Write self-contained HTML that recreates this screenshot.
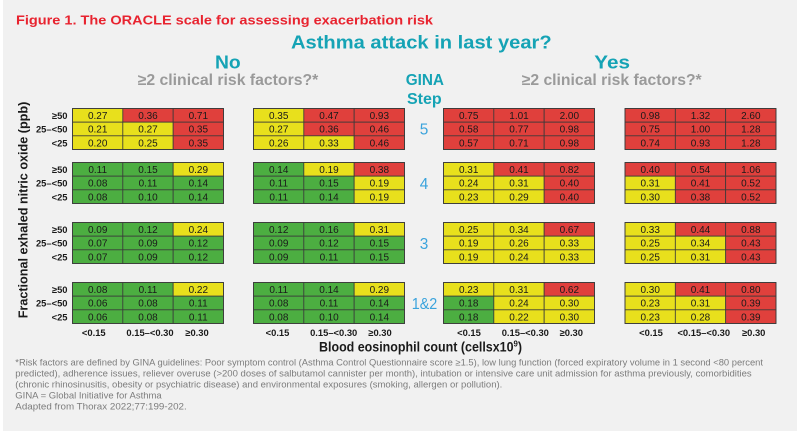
<!DOCTYPE html>
<html><head><meta charset="utf-8"><style>
html,body{margin:0;padding:0;background:#fff;}
svg{display:block;font-family:"Liberation Sans",Arial,sans-serif;}
.g{fill:#4cae41}.y{fill:#e8e01c}.r{fill:#e0403c}
.cell rect{stroke:#3a3a3a;stroke-width:0.8}
.cell text{font-size:10px;fill:#1a1a1a;text-anchor:middle}
.rl{font-size:9.4px;font-weight:bold;fill:#1a1a1a;text-anchor:end}
.xl{font-size:9.4px;font-weight:bold;fill:#1a1a1a;text-anchor:middle}
.st{font-size:15.4px;fill:#3aa3dc;text-anchor:middle}
.fn{font-size:9px;fill:#7c7c7c}
.ob{fill:none;stroke:#333;stroke-width:1.3}
</style></head><body>
<svg width="800" height="434" viewBox="0 0 800 434" xmlns="http://www.w3.org/2000/svg">
<rect x="0" y="0" width="800" height="434" fill="#fff"/>
<rect x="3" y="0" width="794" height="431" fill="#f1f1f1"/>

<text x="16" y="24.5" font-size="13.2" font-weight="bold" fill="#e8232f" textLength="417" lengthAdjust="spacingAndGlyphs">Figure 1. The ORACLE scale for assessing exacerbation risk</text>
<text x="291" y="48.5" font-size="18.6" font-weight="bold" fill="#15a3b5" textLength="260.7" lengthAdjust="spacingAndGlyphs">Asthma attack in last year?</text>
<text x="215" y="68.5" font-size="18.6" font-weight="bold" fill="#15a3b5" textLength="25.7" lengthAdjust="spacingAndGlyphs">No</text>
<text x="594.3" y="68.5" font-size="18.6" font-weight="bold" fill="#15a3b5" textLength="35.7" lengthAdjust="spacingAndGlyphs">Yes</text>
<text x="137.7" y="85" font-size="15.5" font-weight="bold" fill="#9a9a9a" textLength="180.6" lengthAdjust="spacingAndGlyphs">≥2 clinical risk factors?*</text>
<text x="521.7" y="85" font-size="15.5" font-weight="bold" fill="#9a9a9a" textLength="180" lengthAdjust="spacingAndGlyphs">≥2 clinical risk factors?*</text>
<text x="405.7" y="85" font-size="15.4" font-weight="bold" fill="#15a3b5" textLength="38.3" lengthAdjust="spacingAndGlyphs">GINA</text>
<text x="407" y="104" font-size="15.4" font-weight="bold" fill="#15a3b5" textLength="34.7" lengthAdjust="spacingAndGlyphs">Step</text>

<text class="st" x="424" y="134.3">5</text>
<text class="st" x="424" y="189">4</text>
<text class="st" x="424" y="249">3</text>
<text x="411.7" y="309" font-size="15.4" fill="#3aa3dc" textLength="25.6" lengthAdjust="spacingAndGlyphs">1&amp;2</text>

<text transform="translate(27.6,318.3) rotate(-90)" x="0" y="0" font-size="12.6" font-weight="bold" fill="#1a1a1a" textLength="216.6" lengthAdjust="spacingAndGlyphs">Fractional exhaled nitric oxide (ppb)</text>

<!-- Row labels -->
<g>
<text class="rl" x="67.5" y="118.9">≥50</text><text class="rl" x="67.5" y="132.6">25–&lt;50</text><text class="rl" x="67.5" y="146.3">&lt;25</text>
<text class="rl" x="67.5" y="172.9">≥50</text><text class="rl" x="67.5" y="186.6">25–&lt;50</text><text class="rl" x="67.5" y="200.3">&lt;25</text>
<text class="rl" x="67.5" y="232.9">≥50</text><text class="rl" x="67.5" y="246.6">25–&lt;50</text><text class="rl" x="67.5" y="260.3">&lt;25</text>
<text class="rl" x="67.5" y="292.9">≥50</text><text class="rl" x="67.5" y="306.6">25–&lt;50</text><text class="rl" x="67.5" y="320.3">&lt;25</text>
</g>

<!-- GROUP 1 (step 5) -->
<g class="cell" transform="translate(72.5,108.5)">
<rect class="y" x="0" y="0" width="50.33" height="13.67"/><rect class="r" x="50.33" y="0" width="50.33" height="13.67"/><rect class="r" x="100.67" y="0" width="50.33" height="13.67"/>
<rect class="y" x="0" y="13.67" width="50.33" height="13.67"/><rect class="y" x="50.33" y="13.67" width="50.33" height="13.67"/><rect class="r" x="100.67" y="13.67" width="50.33" height="13.67"/>
<rect class="y" x="0" y="27.33" width="50.33" height="13.67"/><rect class="y" x="50.33" y="27.33" width="50.33" height="13.67"/><rect class="r" x="100.67" y="27.33" width="50.33" height="13.67"/>
<rect class="ob" x="0" y="0" width="151" height="41"/>
<text x="25.2" y="10.4">0.27</text><text x="75.5" y="10.4">0.36</text><text x="125.8" y="10.4">0.71</text>
<text x="25.2" y="24.1">0.21</text><text x="75.5" y="24.1">0.27</text><text x="125.8" y="24.1">0.35</text>
<text x="25.2" y="37.8">0.20</text><text x="75.5" y="37.8">0.25</text><text x="125.8" y="37.8">0.35</text>
</g>
<g class="cell" transform="translate(253.5,108.5)">
<rect class="y" x="0" y="0" width="50.33" height="13.67"/><rect class="r" x="50.33" y="0" width="50.33" height="13.67"/><rect class="r" x="100.67" y="0" width="50.33" height="13.67"/>
<rect class="y" x="0" y="13.67" width="50.33" height="13.67"/><rect class="r" x="50.33" y="13.67" width="50.33" height="13.67"/><rect class="r" x="100.67" y="13.67" width="50.33" height="13.67"/>
<rect class="y" x="0" y="27.33" width="50.33" height="13.67"/><rect class="y" x="50.33" y="27.33" width="50.33" height="13.67"/><rect class="r" x="100.67" y="27.33" width="50.33" height="13.67"/>
<rect class="ob" x="0" y="0" width="151" height="41"/>
<text x="25.2" y="10.4">0.35</text><text x="75.5" y="10.4">0.47</text><text x="125.8" y="10.4">0.93</text>
<text x="25.2" y="24.1">0.27</text><text x="75.5" y="24.1">0.36</text><text x="125.8" y="24.1">0.46</text>
<text x="25.2" y="37.8">0.26</text><text x="75.5" y="37.8">0.33</text><text x="125.8" y="37.8">0.46</text>
</g>
<g class="cell" transform="translate(443.5,108.5)">
<rect class="r" x="0" y="0" width="50.33" height="13.67"/><rect class="r" x="50.33" y="0" width="50.33" height="13.67"/><rect class="r" x="100.67" y="0" width="50.33" height="13.67"/>
<rect class="r" x="0" y="13.67" width="50.33" height="13.67"/><rect class="r" x="50.33" y="13.67" width="50.33" height="13.67"/><rect class="r" x="100.67" y="13.67" width="50.33" height="13.67"/>
<rect class="r" x="0" y="27.33" width="50.33" height="13.67"/><rect class="r" x="50.33" y="27.33" width="50.33" height="13.67"/><rect class="r" x="100.67" y="27.33" width="50.33" height="13.67"/>
<rect class="ob" x="0" y="0" width="151" height="41"/>
<text x="25.2" y="10.4">0.75</text><text x="75.5" y="10.4">1.01</text><text x="125.8" y="10.4">2.00</text>
<text x="25.2" y="24.1">0.58</text><text x="75.5" y="24.1">0.77</text><text x="125.8" y="24.1">0.98</text>
<text x="25.2" y="37.8">0.57</text><text x="75.5" y="37.8">0.71</text><text x="125.8" y="37.8">0.98</text>
</g>
<g class="cell" transform="translate(625,108.5)">
<rect class="r" x="0" y="0" width="50.33" height="13.67"/><rect class="r" x="50.33" y="0" width="50.33" height="13.67"/><rect class="r" x="100.67" y="0" width="50.33" height="13.67"/>
<rect class="r" x="0" y="13.67" width="50.33" height="13.67"/><rect class="r" x="50.33" y="13.67" width="50.33" height="13.67"/><rect class="r" x="100.67" y="13.67" width="50.33" height="13.67"/>
<rect class="r" x="0" y="27.33" width="50.33" height="13.67"/><rect class="r" x="50.33" y="27.33" width="50.33" height="13.67"/><rect class="r" x="100.67" y="27.33" width="50.33" height="13.67"/>
<rect class="ob" x="0" y="0" width="151" height="41"/>
<text x="25.2" y="10.4">0.98</text><text x="75.5" y="10.4">1.32</text><text x="125.8" y="10.4">2.60</text>
<text x="25.2" y="24.1">0.75</text><text x="75.5" y="24.1">1.00</text><text x="125.8" y="24.1">1.28</text>
<text x="25.2" y="37.8">0.74</text><text x="75.5" y="37.8">0.93</text><text x="125.8" y="37.8">1.28</text>
</g>

<!-- GROUP 2 (step 4) -->
<g class="cell" transform="translate(72.5,162.5)">
<rect class="g" x="0" y="0" width="50.33" height="13.67"/><rect class="g" x="50.33" y="0" width="50.33" height="13.67"/><rect class="y" x="100.67" y="0" width="50.33" height="13.67"/>
<rect class="g" x="0" y="13.67" width="50.33" height="13.67"/><rect class="g" x="50.33" y="13.67" width="50.33" height="13.67"/><rect class="g" x="100.67" y="13.67" width="50.33" height="13.67"/>
<rect class="g" x="0" y="27.33" width="50.33" height="13.67"/><rect class="g" x="50.33" y="27.33" width="50.33" height="13.67"/><rect class="g" x="100.67" y="27.33" width="50.33" height="13.67"/>
<rect class="ob" x="0" y="0" width="151" height="41"/>
<text x="25.2" y="10.4">0.11</text><text x="75.5" y="10.4">0.15</text><text x="125.8" y="10.4">0.29</text>
<text x="25.2" y="24.1">0.08</text><text x="75.5" y="24.1">0.11</text><text x="125.8" y="24.1">0.14</text>
<text x="25.2" y="37.8">0.08</text><text x="75.5" y="37.8">0.10</text><text x="125.8" y="37.8">0.14</text>
</g>
<g class="cell" transform="translate(253.5,162.5)">
<rect class="g" x="0" y="0" width="50.33" height="13.67"/><rect class="y" x="50.33" y="0" width="50.33" height="13.67"/><rect class="r" x="100.67" y="0" width="50.33" height="13.67"/>
<rect class="g" x="0" y="13.67" width="50.33" height="13.67"/><rect class="g" x="50.33" y="13.67" width="50.33" height="13.67"/><rect class="y" x="100.67" y="13.67" width="50.33" height="13.67"/>
<rect class="g" x="0" y="27.33" width="50.33" height="13.67"/><rect class="g" x="50.33" y="27.33" width="50.33" height="13.67"/><rect class="y" x="100.67" y="27.33" width="50.33" height="13.67"/>
<rect class="ob" x="0" y="0" width="151" height="41"/>
<text x="25.2" y="10.4">0.14</text><text x="75.5" y="10.4">0.19</text><text x="125.8" y="10.4">0.38</text>
<text x="25.2" y="24.1">0.11</text><text x="75.5" y="24.1">0.15</text><text x="125.8" y="24.1">0.19</text>
<text x="25.2" y="37.8">0.11</text><text x="75.5" y="37.8">0.14</text><text x="125.8" y="37.8">0.19</text>
</g>
<g class="cell" transform="translate(443.5,162.5)">
<rect class="y" x="0" y="0" width="50.33" height="13.67"/><rect class="r" x="50.33" y="0" width="50.33" height="13.67"/><rect class="r" x="100.67" y="0" width="50.33" height="13.67"/>
<rect class="y" x="0" y="13.67" width="50.33" height="13.67"/><rect class="y" x="50.33" y="13.67" width="50.33" height="13.67"/><rect class="r" x="100.67" y="13.67" width="50.33" height="13.67"/>
<rect class="y" x="0" y="27.33" width="50.33" height="13.67"/><rect class="y" x="50.33" y="27.33" width="50.33" height="13.67"/><rect class="r" x="100.67" y="27.33" width="50.33" height="13.67"/>
<rect class="ob" x="0" y="0" width="151" height="41"/>
<text x="25.2" y="10.4">0.31</text><text x="75.5" y="10.4">0.41</text><text x="125.8" y="10.4">0.82</text>
<text x="25.2" y="24.1">0.24</text><text x="75.5" y="24.1">0.31</text><text x="125.8" y="24.1">0.40</text>
<text x="25.2" y="37.8">0.23</text><text x="75.5" y="37.8">0.29</text><text x="125.8" y="37.8">0.40</text>
</g>
<g class="cell" transform="translate(625,162.5)">
<rect class="r" x="0" y="0" width="50.33" height="13.67"/><rect class="r" x="50.33" y="0" width="50.33" height="13.67"/><rect class="r" x="100.67" y="0" width="50.33" height="13.67"/>
<rect class="y" x="0" y="13.67" width="50.33" height="13.67"/><rect class="r" x="50.33" y="13.67" width="50.33" height="13.67"/><rect class="r" x="100.67" y="13.67" width="50.33" height="13.67"/>
<rect class="y" x="0" y="27.33" width="50.33" height="13.67"/><rect class="r" x="50.33" y="27.33" width="50.33" height="13.67"/><rect class="r" x="100.67" y="27.33" width="50.33" height="13.67"/>
<rect class="ob" x="0" y="0" width="151" height="41"/>
<text x="25.2" y="10.4">0.40</text><text x="75.5" y="10.4">0.54</text><text x="125.8" y="10.4">1.06</text>
<text x="25.2" y="24.1">0.31</text><text x="75.5" y="24.1">0.41</text><text x="125.8" y="24.1">0.52</text>
<text x="25.2" y="37.8">0.30</text><text x="75.5" y="37.8">0.38</text><text x="125.8" y="37.8">0.52</text>
</g>

<!-- GROUP 3 (step 3) -->
<g class="cell" transform="translate(72.5,222.5)">
<rect class="g" x="0" y="0" width="50.33" height="13.67"/><rect class="g" x="50.33" y="0" width="50.33" height="13.67"/><rect class="y" x="100.67" y="0" width="50.33" height="13.67"/>
<rect class="g" x="0" y="13.67" width="50.33" height="13.67"/><rect class="g" x="50.33" y="13.67" width="50.33" height="13.67"/><rect class="g" x="100.67" y="13.67" width="50.33" height="13.67"/>
<rect class="g" x="0" y="27.33" width="50.33" height="13.67"/><rect class="g" x="50.33" y="27.33" width="50.33" height="13.67"/><rect class="g" x="100.67" y="27.33" width="50.33" height="13.67"/>
<rect class="ob" x="0" y="0" width="151" height="41"/>
<text x="25.2" y="10.4">0.09</text><text x="75.5" y="10.4">0.12</text><text x="125.8" y="10.4">0.24</text>
<text x="25.2" y="24.1">0.07</text><text x="75.5" y="24.1">0.09</text><text x="125.8" y="24.1">0.12</text>
<text x="25.2" y="37.8">0.07</text><text x="75.5" y="37.8">0.09</text><text x="125.8" y="37.8">0.12</text>
</g>
<g class="cell" transform="translate(253.5,222.5)">
<rect class="g" x="0" y="0" width="50.33" height="13.67"/><rect class="g" x="50.33" y="0" width="50.33" height="13.67"/><rect class="y" x="100.67" y="0" width="50.33" height="13.67"/>
<rect class="g" x="0" y="13.67" width="50.33" height="13.67"/><rect class="g" x="50.33" y="13.67" width="50.33" height="13.67"/><rect class="g" x="100.67" y="13.67" width="50.33" height="13.67"/>
<rect class="g" x="0" y="27.33" width="50.33" height="13.67"/><rect class="g" x="50.33" y="27.33" width="50.33" height="13.67"/><rect class="g" x="100.67" y="27.33" width="50.33" height="13.67"/>
<rect class="ob" x="0" y="0" width="151" height="41"/>
<text x="25.2" y="10.4">0.12</text><text x="75.5" y="10.4">0.16</text><text x="125.8" y="10.4">0.31</text>
<text x="25.2" y="24.1">0.09</text><text x="75.5" y="24.1">0.12</text><text x="125.8" y="24.1">0.15</text>
<text x="25.2" y="37.8">0.09</text><text x="75.5" y="37.8">0.11</text><text x="125.8" y="37.8">0.15</text>
</g>
<g class="cell" transform="translate(443.5,222.5)">
<rect class="y" x="0" y="0" width="50.33" height="13.67"/><rect class="y" x="50.33" y="0" width="50.33" height="13.67"/><rect class="r" x="100.67" y="0" width="50.33" height="13.67"/>
<rect class="y" x="0" y="13.67" width="50.33" height="13.67"/><rect class="y" x="50.33" y="13.67" width="50.33" height="13.67"/><rect class="y" x="100.67" y="13.67" width="50.33" height="13.67"/>
<rect class="y" x="0" y="27.33" width="50.33" height="13.67"/><rect class="y" x="50.33" y="27.33" width="50.33" height="13.67"/><rect class="y" x="100.67" y="27.33" width="50.33" height="13.67"/>
<rect class="ob" x="0" y="0" width="151" height="41"/>
<text x="25.2" y="10.4">0.25</text><text x="75.5" y="10.4">0.34</text><text x="125.8" y="10.4">0.67</text>
<text x="25.2" y="24.1">0.19</text><text x="75.5" y="24.1">0.26</text><text x="125.8" y="24.1">0.33</text>
<text x="25.2" y="37.8">0.19</text><text x="75.5" y="37.8">0.24</text><text x="125.8" y="37.8">0.33</text>
</g>
<g class="cell" transform="translate(625,222.5)">
<rect class="y" x="0" y="0" width="50.33" height="13.67"/><rect class="r" x="50.33" y="0" width="50.33" height="13.67"/><rect class="r" x="100.67" y="0" width="50.33" height="13.67"/>
<rect class="y" x="0" y="13.67" width="50.33" height="13.67"/><rect class="y" x="50.33" y="13.67" width="50.33" height="13.67"/><rect class="r" x="100.67" y="13.67" width="50.33" height="13.67"/>
<rect class="y" x="0" y="27.33" width="50.33" height="13.67"/><rect class="y" x="50.33" y="27.33" width="50.33" height="13.67"/><rect class="r" x="100.67" y="27.33" width="50.33" height="13.67"/>
<rect class="ob" x="0" y="0" width="151" height="41"/>
<text x="25.2" y="10.4">0.33</text><text x="75.5" y="10.4">0.44</text><text x="125.8" y="10.4">0.88</text>
<text x="25.2" y="24.1">0.25</text><text x="75.5" y="24.1">0.34</text><text x="125.8" y="24.1">0.43</text>
<text x="25.2" y="37.8">0.25</text><text x="75.5" y="37.8">0.31</text><text x="125.8" y="37.8">0.43</text>
</g>

<!-- GROUP 4 (step 1&2) -->
<g class="cell" transform="translate(72.5,282.5)">
<rect class="g" x="0" y="0" width="50.33" height="13.67"/><rect class="g" x="50.33" y="0" width="50.33" height="13.67"/><rect class="y" x="100.67" y="0" width="50.33" height="13.67"/>
<rect class="g" x="0" y="13.67" width="50.33" height="13.67"/><rect class="g" x="50.33" y="13.67" width="50.33" height="13.67"/><rect class="g" x="100.67" y="13.67" width="50.33" height="13.67"/>
<rect class="g" x="0" y="27.33" width="50.33" height="13.67"/><rect class="g" x="50.33" y="27.33" width="50.33" height="13.67"/><rect class="g" x="100.67" y="27.33" width="50.33" height="13.67"/>
<rect class="ob" x="0" y="0" width="151" height="41"/>
<text x="25.2" y="10.4">0.08</text><text x="75.5" y="10.4">0.11</text><text x="125.8" y="10.4">0.22</text>
<text x="25.2" y="24.1">0.06</text><text x="75.5" y="24.1">0.08</text><text x="125.8" y="24.1">0.11</text>
<text x="25.2" y="37.8">0.06</text><text x="75.5" y="37.8">0.08</text><text x="125.8" y="37.8">0.11</text>
</g>
<g class="cell" transform="translate(253.5,282.5)">
<rect class="g" x="0" y="0" width="50.33" height="13.67"/><rect class="g" x="50.33" y="0" width="50.33" height="13.67"/><rect class="y" x="100.67" y="0" width="50.33" height="13.67"/>
<rect class="g" x="0" y="13.67" width="50.33" height="13.67"/><rect class="g" x="50.33" y="13.67" width="50.33" height="13.67"/><rect class="g" x="100.67" y="13.67" width="50.33" height="13.67"/>
<rect class="g" x="0" y="27.33" width="50.33" height="13.67"/><rect class="g" x="50.33" y="27.33" width="50.33" height="13.67"/><rect class="g" x="100.67" y="27.33" width="50.33" height="13.67"/>
<rect class="ob" x="0" y="0" width="151" height="41"/>
<text x="25.2" y="10.4">0.11</text><text x="75.5" y="10.4">0.14</text><text x="125.8" y="10.4">0.29</text>
<text x="25.2" y="24.1">0.08</text><text x="75.5" y="24.1">0.11</text><text x="125.8" y="24.1">0.14</text>
<text x="25.2" y="37.8">0.08</text><text x="75.5" y="37.8">0.10</text><text x="125.8" y="37.8">0.14</text>
</g>
<g class="cell" transform="translate(443.5,282.5)">
<rect class="y" x="0" y="0" width="50.33" height="13.67"/><rect class="y" x="50.33" y="0" width="50.33" height="13.67"/><rect class="r" x="100.67" y="0" width="50.33" height="13.67"/>
<rect class="g" x="0" y="13.67" width="50.33" height="13.67"/><rect class="y" x="50.33" y="13.67" width="50.33" height="13.67"/><rect class="y" x="100.67" y="13.67" width="50.33" height="13.67"/>
<rect class="g" x="0" y="27.33" width="50.33" height="13.67"/><rect class="y" x="50.33" y="27.33" width="50.33" height="13.67"/><rect class="y" x="100.67" y="27.33" width="50.33" height="13.67"/>
<rect class="ob" x="0" y="0" width="151" height="41"/>
<text x="25.2" y="10.4">0.23</text><text x="75.5" y="10.4">0.31</text><text x="125.8" y="10.4">0.62</text>
<text x="25.2" y="24.1">0.18</text><text x="75.5" y="24.1">0.24</text><text x="125.8" y="24.1">0.30</text>
<text x="25.2" y="37.8">0.18</text><text x="75.5" y="37.8">0.22</text><text x="125.8" y="37.8">0.30</text>
</g>
<g class="cell" transform="translate(625,282.5)">
<rect class="y" x="0" y="0" width="50.33" height="13.67"/><rect class="r" x="50.33" y="0" width="50.33" height="13.67"/><rect class="r" x="100.67" y="0" width="50.33" height="13.67"/>
<rect class="y" x="0" y="13.67" width="50.33" height="13.67"/><rect class="y" x="50.33" y="13.67" width="50.33" height="13.67"/><rect class="r" x="100.67" y="13.67" width="50.33" height="13.67"/>
<rect class="y" x="0" y="27.33" width="50.33" height="13.67"/><rect class="y" x="50.33" y="27.33" width="50.33" height="13.67"/><rect class="r" x="100.67" y="27.33" width="50.33" height="13.67"/>
<rect class="ob" x="0" y="0" width="151" height="41"/>
<text x="25.2" y="10.4">0.30</text><text x="75.5" y="10.4">0.41</text><text x="125.8" y="10.4">0.80</text>
<text x="25.2" y="24.1">0.23</text><text x="75.5" y="24.1">0.31</text><text x="125.8" y="24.1">0.39</text>
<text x="25.2" y="37.8">0.23</text><text x="75.5" y="37.8">0.28</text><text x="125.8" y="37.8">0.39</text>
</g>

<!-- X labels -->
<g>
<text class="xl" x="93.8" y="336">&lt;0.15</text><text class="xl" x="150" y="336">0.15–&lt;0.30</text><text class="xl" x="197" y="336">≥0.30</text>
<text class="xl" x="277.5" y="336">&lt;0.15</text><text class="xl" x="333.7" y="336">0.15–&lt;0.30</text><text class="xl" x="380" y="336">≥0.30</text>
<text class="xl" x="469" y="336">&lt;0.15</text><text class="xl" x="525.3" y="336">0.15–&lt;0.30</text><text class="xl" x="571.3" y="336">≥0.30</text>
<text class="xl" x="651" y="336">&lt;0.15</text><text class="xl" x="703.8" y="336">&lt;0.15–&lt;0.30</text><text class="xl" x="753.7" y="336">≥0.30</text>
</g>

<text x="319" y="351.5" font-size="13.6" font-weight="bold" fill="#1a1a1a" textLength="203" lengthAdjust="spacingAndGlyphs">Blood eosinophil count (cellsx10<tspan font-size="8.5" dy="-5">9</tspan><tspan dy="5">)</tspan></text>

<!-- Footnote -->
<text class="fn" x="15.3" y="365.7" textLength="747.7" lengthAdjust="spacingAndGlyphs">*Risk factors are defined by GINA guidelines: Poor symptom control (Asthma Control Questionnaire score ≥1.5), low lung function (forced expiratory volume in 1 second &lt;80 percent</text>
<text class="fn" x="15.3" y="376.7" textLength="736.4" lengthAdjust="spacingAndGlyphs">predicted), adherence issues, reliever overuse (&gt;200 doses of salbutamol cannister per month), intubation or intensive care unit admission for asthma previously, comorbidities</text>
<text class="fn" x="15.3" y="387.7" textLength="487" lengthAdjust="spacingAndGlyphs">(chronic rhinosinusitis, obesity or psychiatric disease) and environmental exposures (smoking, allergen or pollution).</text>
<text class="fn" x="15.3" y="398.7" textLength="146.4" lengthAdjust="spacingAndGlyphs">GINA = Global Initiative for Asthma</text>
<text class="fn" x="15.3" y="409.7" textLength="171.4" lengthAdjust="spacingAndGlyphs">Adapted from Thorax 2022;77:199-202.</text>
</svg>
</body></html>
